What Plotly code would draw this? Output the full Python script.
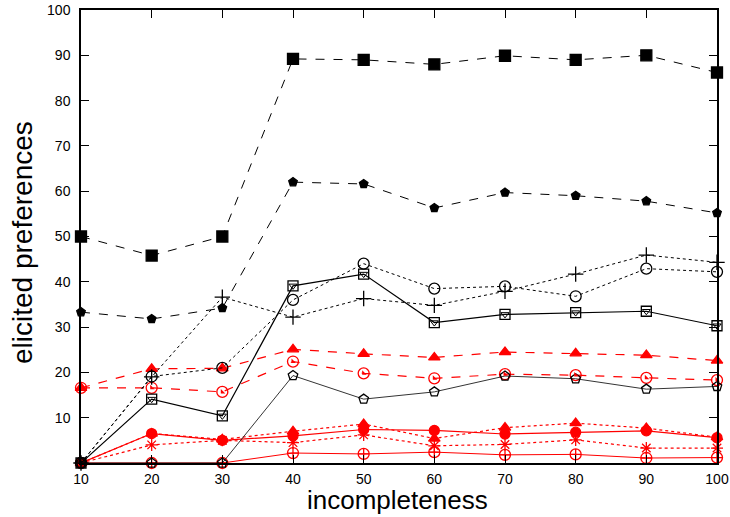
import plotly.graph_objects as go

x = [10, 20, 30, 40, 50, 60, 70, 80, 90, 100]

blk_square = [50, 45.8, 50, 89.2, 89, 88, 89.9, 89, 90, 86.2]
blk_pentagon = [33.3, 31.8, 34.2, 62, 61.6, 56.3, 59.7, 59, 57.8, 55.2]
blk_plus = [0, 19, 36.6, 32.2, 36.3, 34.8, 37.9, 41.7, 45.9, 44.3]
blk_circle = [0, 19.1, 21, 36, 44, 38.5, 39, 36.8, 42.9, 42.2]
blk_sqtri = [0, 14.1, 10.4, 39.1, 41.7, 31, 32.8, 33.2, 33.5, 30.3]
blk_pent_open = [0, 0, 0, 19.3, 14.1, 15.7, 19.2, 18.6, 16.3, 16.9]
red_triangle = [16.6, 20.8, 20.9, 25.1, 24.1, 23.3, 24.5, 24.2, 23.8, 22.6]
red_halfcircle = [16.6, 16.6, 15.7, 22.4, 19.8, 18.7, 19.6, 19.4, 18.8, 18.3]
red_dot_solid = [0, 6.5, 5.0, 6.0, 7.4, 7.2, 6.4, 6.8, 7.1, 5.6]
red_tri_dotted = [0, 6.5, 5.2, 7.0, 8.6, 5.4, 7.8, 8.8, 7.7, 5.7]
red_asterisk = [0, 4.0, 5.0, 4.5, 6.2, 3.8, 4.1, 5.1, 3.3, 3.3]
red_circleplus = [0, 0, 0, 2.2, 2.0, 2.4, 1.8, 1.9, 1.1, 1.2]

y_ticks = [10, 20, 30, 40, 50, 60, 70, 80, 90, 100]

BLK = "black"
RED = "rgb(255,0,0)"

series = [
    # (y, color, dash, symbol, size, line width)
    (red_circleplus, RED, "solid", "circle-cross-open", 11, 1),
    (red_asterisk, RED, "dot", "asterisk-open", 10, 1.2),
    (red_tri_dotted, RED, "dot", "triangle-up", 10, 1.2),
    (red_dot_solid, RED, "solid", "circle", 10, 1.2),
    (red_halfcircle, RED, "dash", "circle-open", 11, 1.2),
    (red_triangle, RED, "dash", "triangle-up", 10, 1.2),
    (blk_pent_open, BLK, "solid", "pentagon-open", 10, 0.8),
    (blk_sqtri, BLK, "solid", "square-open", 10, 1.2),
    (blk_circle, BLK, "dot", "circle-open", 11, 1),
    (blk_plus, BLK, "dot", "cross-thin-open", 11, 1),
    (blk_pentagon, BLK, "dash", "pentagon", 9, 1),
    (blk_square, BLK, "dash", "square", 11, 1),
]

fig = go.Figure()
for y, c, dash, sym, sz, lw in series:
    fig.add_trace(go.Scatter(
        x=x, y=y, mode="lines+markers", cliponaxis=False,
        line=dict(color=c, dash=dash, width=lw),
        marker=dict(symbol=sym, size=sz, color=c,
                    line=dict(color=c, width=1.3)),
        showlegend=False))

# inner triangle of the square-with-triangle marker
fig.add_trace(go.Scatter(
    x=x, y=blk_sqtri, mode="markers", cliponaxis=False,
    marker=dict(symbol="triangle-down-open", size=7, color=BLK,
                line=dict(color=BLK, width=1)),
    showlegend=False))
# filled part of the half-filled red circle
fig.add_trace(go.Scatter(
    x=x, y=red_halfcircle, mode="markers", cliponaxis=False,
    marker=dict(symbol="triangle-sw", size=5, color=RED,
                line=dict(width=0)),
    showlegend=False))

tickfont = dict(family="Liberation Sans, Arial", size=14, color="black")

fig.update_layout(
    width=730, height=517,
    margin=dict(l=81, r=13, t=10, b=54),
    paper_bgcolor="white", plot_bgcolor="white",
    showlegend=False,
    xaxis=dict(
        range=[10, 100], tickvals=x, ticktext=[str(v) for v in x],
        ticks="inside", ticklen=8, tickwidth=1, tickcolor="black",
        showline=True, linecolor="black", linewidth=1.5, mirror="ticks",
        showgrid=False, zeroline=False, tickfont=tickfont, automargin=False,
        ticklabelstandoff=2,
    ),
    yaxis=dict(
        range=[0, 100], tickvals=y_ticks, ticktext=[str(v) for v in y_ticks],
        ticks="inside", ticklen=8, tickwidth=1, tickcolor="black",
        showline=True, linecolor="black", linewidth=1.5, mirror="ticks",
        showgrid=False, zeroline=False, tickfont=tickfont, automargin=False,
        ticklabelstandoff=6,
    ),
    annotations=[
        dict(text="incompleteness", xref="paper", yref="paper",
             x=0.498, y=-0.081, showarrow=False,
             font=dict(family="Liberation Sans, Arial", size=26, color="black"),
             xanchor="center", yanchor="middle"),
        dict(text="elicited preferences", xref="paper", yref="paper",
             x=-0.091, y=0.486, showarrow=False,
             font=dict(family="Liberation Sans, Arial", size=28, color="black"),
             textangle=-90, xanchor="center", yanchor="middle"),
    ],
)

# remove the default 8px page margin so the figure fills the window exactly
fig.write_html("out.html",
               config={"displayModeBar": False},
               post_script="document.body.style.margin='0';document.body.style.overflow='hidden';")
